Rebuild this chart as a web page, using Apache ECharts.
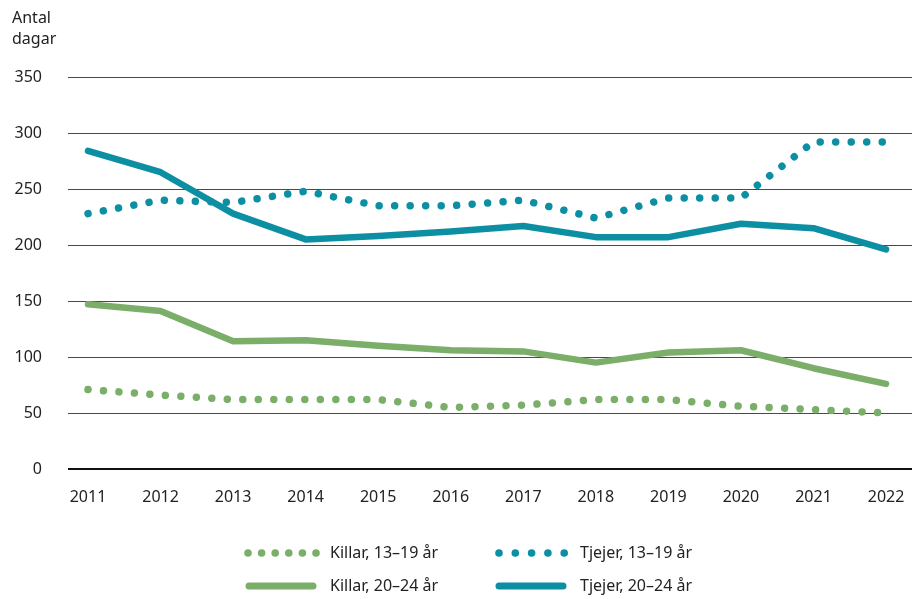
<!DOCTYPE html>
<html>
<head>
<meta charset="utf-8">
<script src="https://cdn.jsdelivr.net/npm/echarts@6/dist/echarts.min.js"></script>
<style>
  html, body { margin: 0; padding: 0; background: #fff; }
  #chart { width: 913px; height: 599px; }
</style>
</head>
<body>
<div id="chart"></div>
<script>
// years on the x axis
var years = [2011, 2012, 2013, 2014, 2015, 2016, 2017, 2018, 2019, 2020, 2021, 2022];
// antal dagar per grupp
var killar1319 = [71, 66, 62, 62, 62, 55, 57, 62, 62, 56, 53, 50];
var tjejer1319 = [228, 240, 238, 248, 235, 235, 240, 224, 242, 242, 292, 292];
var killar2024 = [147, 141, 114, 115, 110, 106, 105, 95, 104, 106, 90, 76];
var tjejer2024 = [284, 265, 228, 205, 208, 212, 217, 207, 207, 219, 215, 196];
var yTicks = [0, 50, 100, 150, 200, 250, 300, 350];
var seriesNames = ['Killar, 13–19 år', 'Tjejer, 13–19 år', 'Killar, 20–24 år', 'Tjejer, 20–24 år'];

var green = '#7aae69';
var teal = '#0d8fa3';
var font = '"Noto Sans", "Open Sans", sans-serif';

function pairs(vals) {
  return years.map(function (y, i) { return [y, vals[i]]; });
}

var dotType = [0.01, 15.5];

// legend drawn by hand: dotted rows on top, solid rows below
function legendDots(x0, step, n, y, color) {
  var out = [];
  for (var i = 0; i < n; i++) {
    out.push({ type: 'circle', shape: { cx: x0 + i * step, cy: y, r: 3.8 }, style: { fill: color } });
  }
  return out;
}
function legendLine(x1, x2, y, color) {
  return { type: 'line', shape: { x1: x1, y1: y, x2: x2, y2: y },
    style: { stroke: color, lineWidth: 7, lineCap: 'round' } };
}
function legendText(x, y, txt) {
  return { type: 'text', x: x, y: y,
    style: { text: txt, fontSize: 16, fontFamily: font, fill: '#222', verticalAlign: 'middle' } };
}

var legendEls = []
  .concat(legendDots(248, 13.6, 6, 553, green))
  .concat(legendDots(499, 16.3, 5, 553, teal))
  .concat([
    legendLine(249, 313, 586, green),
    legendLine(499, 563, 586, teal),
    legendText(330, 553, seriesNames[0]),
    legendText(580, 553, seriesNames[1]),
    legendText(330, 586, seriesNames[2]),
    legendText(580, 586, seriesNames[3])
  ]);

var chart = echarts.init(document.getElementById('chart'), null, { renderer: 'canvas' });

var option = {
  animation: false,
  textStyle: { fontFamily: font, color: '#222' },
  grid: { left: 68, right: 1, top: 77, bottom: 130, containLabel: false },
  xAxis: {
    type: 'value',
    min: 2010.724,
    max: 2022.358,
    axisLine: { show: false },
    axisTick: { show: false },
    splitLine: { show: false },
    axisLabel: {
      customValues: years,
      margin: 20,
      fontSize: 16,
      color: '#222',
      fontFamily: font,
      formatter: function (v) { return String(v); }
    }
  },
  yAxis: {
    type: 'value',
    min: 0,
    max: 350,
    interval: 50,
    name: 'Antal\ndagar',
    nameLocation: 'end',
    nameGap: 0,
    nameTextStyle: {
      fontSize: 16, color: '#222', fontFamily: font, align: 'left',
      lineHeight: 21, padding: [0, 0, 19, -56]
    },
    axisLine: { show: false },
    axisTick: { show: false },
    axisLabel: { margin: 26, fontSize: 16, color: '#222', fontFamily: font, customValues: yTicks },
    splitLine: { lineStyle: { color: '#4a4a4a', width: 1 } }
  },
  graphic: legendEls,
  series: [
    {
      name: seriesNames[0], type: 'line', symbol: 'none',
      data: pairs(killar1319), color: green,
      lineStyle: { color: green, type: dotType, cap: 'round', width: 7.5 }
    },
    {
      name: seriesNames[1], type: 'line', symbol: 'none',
      data: pairs(tjejer1319), color: teal,
      lineStyle: { color: teal, type: dotType, cap: 'round', width: 7.5 }
    },
    {
      name: seriesNames[2], type: 'line', symbol: 'none',
      data: pairs(killar2024), color: green,
      lineStyle: { color: green, width: 6.5, cap: 'round', join: 'round' }
    },
    {
      name: seriesNames[3], type: 'line', symbol: 'none',
      data: pairs(tjejer2024), color: teal,
      lineStyle: { color: teal, width: 6.5, cap: 'round', join: 'round' }
    },
    {
      // baseline at 0
      type: 'line', silent: true, data: [],
      markLine: {
        symbol: 'none', silent: true, label: { show: false },
        lineStyle: { color: '#111', width: 2, type: 'solid' },
        data: [{ yAxis: 0 }]
      }
    }
  ]
};

chart.setOption(option);
</script>
</body>
</html>
